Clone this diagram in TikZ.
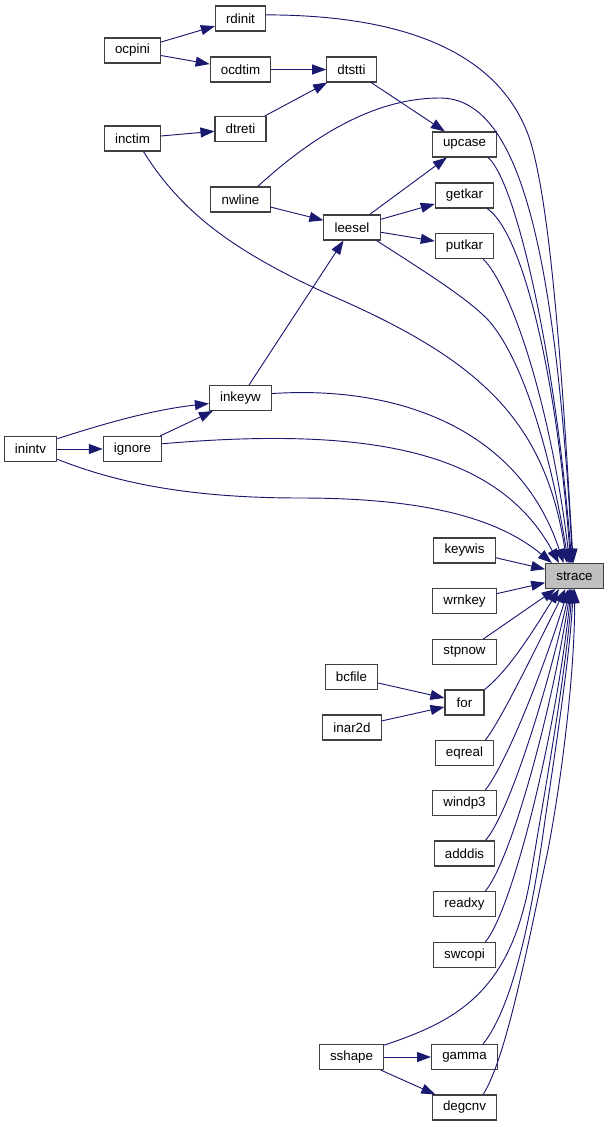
\documentclass[tikz,border=0pt]{standalone}
\usepackage{fontspec}
\setmainfont{Liberation Sans}
\usetikzlibrary{arrows.meta}
\definecolor{edgeblue}{RGB}{25,25,112}
\definecolor{boxgrey}{RGB}{191,191,191}
\tikzset{
  fn/.style={draw=black!75, line width=0.8pt, fill=white, minimum height=18.75pt,
    inner xsep=8pt, inner ysep=0pt, font=\fontsize{10}{12}\selectfont},
  call/.style={draw=edgeblue, line width=0.7pt, -{Triangle[length=10.5pt,width=7.5pt]}}
}
\begin{document}
\begin{tikzpicture}[x=0.75pt, y=-0.75pt]
        \useasboundingbox (0,0) rectangle (609,1127);
        % left part
        \node[fn] (rdinit) at (240.5,18.5) {rdinit};
        \node[fn] (ocpini) at (132.5,50.5) {ocpini};
        \node[fn] (ocdtim) at (240.5,69.5) {ocdtim};
        \node[fn] (dtstti) at (351.5,69.5) {dtstti};
        \node[fn] (dtreti) at (240.5,129) {dtreti};
        \node[fn] (inctim) at (132.5,138.5) {inctim};
        \node[fn] (nwline) at (240.5,199.5) {nwline};
        \node[fn] (leesel) at (352,227.5) {leesel};
        \node[fn] (inkeyw) at (240.5,398) {inkeyw};
        \node[fn] (inintv) at (30.5,449) {inintv};
        \node[fn] (ignore) at (132.5,449) {ignore};
        \node[fn] (bcfile) at (351.5,677) {bcfile};
        \node[fn] (inar2d) at (352,727.5) {inar2d};
        \node[fn] (sshape) at (351.5,1057) {sshape};
        % column next to strace
        \node[fn] (upcase) at (464.5,144.5) {upcase};
        \node[fn] (getkar) at (464.5,195.5) {getkar};
        \node[fn] (putkar) at (464.5,246) {putkar};
        \node[fn] (keywis) at (464.5,550.5) {keywis};
        \node[fn] (wrnkey) at (464.5,601) {wrnkey};
        \node[fn] (stpnow) at (464.5,652) {stpnow};
        \node[fn, minimum width=29.25pt] (for) at (464.5,702.5) {for};
        \node[fn] (eqreal) at (464.5,753) {eqreal};
        \node[fn] (windp3) at (464.5,803) {windp3};
        \node[fn] (adddis) at (464.5,853.5) {adddis};
        \node[fn] (readxy) at (464.5,904) {readxy};
        \node[fn] (swcopi) at (464.5,955) {swcopi};
        \node[fn] (gamma) at (464.5,1057) {gamma};
        \node[fn] (degcnv) at (464.5,1107.5) {degcnv};
        \node[fn, fill=boxgrey] (strace) at (574.5,576) {strace};
        % calls between the callers
        \draw[call] (ocpini) -- (rdinit);
        \draw[call] (ocpini) -- (ocdtim);
        \draw[call] (ocdtim) -- (dtstti);
        \draw[call] (inctim) -- (dtreti);
        \draw[call] (dtreti) -- (dtstti);
        \draw[call] (dtstti) -- (upcase);
        \draw[call] (leesel) -- (upcase);
        \draw[call] (nwline) -- (leesel);
        \draw[call] (leesel) -- (getkar);
        \draw[call] (leesel) -- (putkar);
        \draw[call] (inkeyw) -- (leesel);
        \draw[call] (inintv.21) .. controls (100,425) and (150,410) .. (inkeyw.190);
        \draw[call] (ignore) -- (inkeyw);
        \draw[call] (inintv) -- (ignore);
        \draw[call] (bcfile) -- (for);
        \draw[call] (inar2d) -- (for);
        \draw[call] (sshape) -- (gamma);
        \draw[call] (sshape) -- (degcnv);
        % calls into strace from above
        \draw[call] (rdinit.8) .. controls (400,15) and (500,50) .. (530,140)
                .. controls (555,220) and (566,450) .. (strace.95);
        \draw[call] (nwline.37) .. controls (330,120) and (390,98) .. (440,98)
                .. controls (520,98) and (555,250) .. (strace.98);
        \draw[call] (upcase.-29) .. controls (515,180) and (555,350) .. (strace.102);
        \draw[call] (getkar.-30) .. controls (520,230) and (555,360) .. (strace.106);
        \draw[call] (putkar.-35) .. controls (510,285) and (550,400) .. (strace.110);
        \draw[call] (leesel.-28) .. controls (430,275) and (470,300) .. (490,322)
                .. controls (530,370) and (555,480) .. (strace.115);
        \draw[call] (inctim.-50) .. controls (180,210) and (230,250) .. (330,295)
                .. controls (480,360) and (545,420) .. (strace.120);
        \draw[call] (inkeyw.8) .. controls (400,385) and (520,430) .. (strace.130);
        \draw[call] (ignore.10) .. controls (380,425) and (500,455) .. (strace.140);
        \draw[call] (inintv.-21) .. controls (110,480) and (180,498) .. (300,498)
                .. controls (430,498) and (500,520) .. (strace.150);
        % calls into strace from below
        \draw[call] (keywis) -- (strace);
        \draw[call] (wrnkey) -- (strace);
        \draw[call] (stpnow) -- (strace);
        \draw[call] (for.north east) .. controls (510,670) and (540,620) .. (strace.220);
        \draw[call] (eqreal.32) .. controls (500,722) and (535,650) .. (strace.235);
        \draw[call] (windp3.32) .. controls (505,765) and (540,680) .. (strace.245);
        \draw[call] (adddis.32) .. controls (508,815) and (545,700) .. (strace.250);
        \draw[call] (readxy.32) .. controls (510,862) and (550,720) .. (strace.253);
        \draw[call] (swcopi.32) .. controls (512,910) and (555,740) .. (strace.256);
        \draw[call] (sshape.20) .. controls (460,1020) and (510,990) .. (530,880)
                .. controls (545,790) and (565,680) .. (strace.260);
        \draw[call] (gamma.35) .. controls (510,1010) and (530,930) .. (545,820)
                .. controls (560,720) and (570,650) .. (strace.265);
        \draw[call] (degcnv.35) .. controls (505,1060) and (525,960) .. (548,850)
                .. controls (565,760) and (575,660) .. (strace.270);
\end{tikzpicture}
\end{document}
